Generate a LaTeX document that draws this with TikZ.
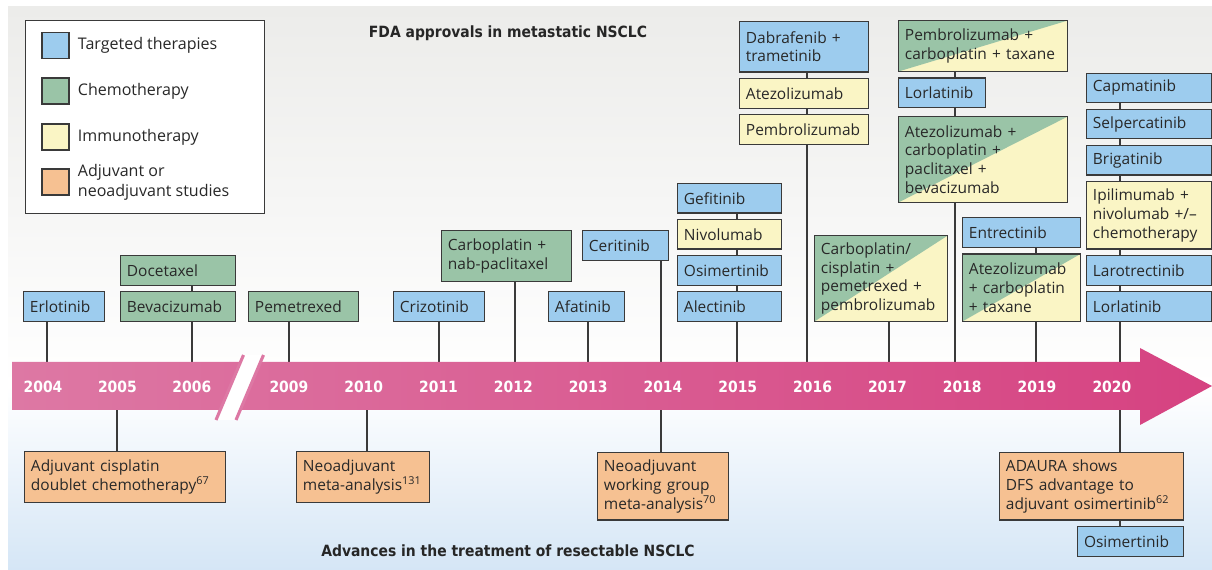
\documentclass[tikz,border=0pt]{standalone}
\usepackage{fontspec}
\setmainfont{Open Sans}
\newfontfamily\headfont{DejaVuSansCondensed-Bold.ttf}
\usepackage{tikz}
\usetikzlibrary{positioning, backgrounds}
\pgfdeclarelayer{panel}
\pgfsetlayers{panel,background,main}

\definecolor{targetBlue}{RGB}{157,204,238}
\definecolor{chemoGreen}{RGB}{154,196,167}
\definecolor{immunoYellow}{RGB}{250,245,197}
\definecolor{adjOrange}{RGB}{246,193,146}
\definecolor{boxLine}{RGB}{58,58,58}
\definecolor{boxText}{RGB}{40,40,40}
\definecolor{arrowLight}{RGB}{221,120,164}
\definecolor{arrowDark}{RGB}{214,66,129}
\definecolor{panelGray}{RGB}{236,236,234}
\definecolor{panelBlue}{RGB}{213,230,246}

\newcommand{\boxfont}{\fontsize{11}{13.3}\selectfont}
\newcommand{\keyfont}{\fontsize{11.4}{14}\selectfont}
\newcommand{\yearfont}{\headfont\fontsize{11}{13}\selectfont}
\hyphenpenalty=10000
\exhyphenpenalty=10000

\tikzstyle{drug} = [draw=boxLine, line width=0.9pt, rectangle, align=left, inner xsep=4.5pt, inner ysep=0pt, font=\boxfont, text=boxText]
\tikzstyle{targeted} = [drug, fill=targetBlue]
\tikzstyle{chemo} = [drug, fill=chemoGreen]
\tikzstyle{immuno} = [drug, fill=immunoYellow]
\tikzstyle{adjuvant} = [drug, fill=adjOrange]
\tikzstyle{combo} = [drug, fill=immunoYellow, path picture={\fill[chemoGreen] (path picture bounding box.south west) -- (path picture bounding box.north west) -- (path picture bounding box.north east) -- cycle;}]
\tikzstyle{oneline} = [minimum height=21pt]
\tikzstyle{twoline} = [minimum height=36.2pt]
\tikzstyle{threeline} = [minimum height=48pt]
\tikzstyle{fourline} = [minimum height=61pt]
\tikzstyle{legendkey} = [draw=boxLine, line width=0.9pt, minimum width=19.2pt, minimum height=18.5pt, inner sep=0pt]
\tikzstyle{legendtext} = [font=\keyfont, text=boxText, align=left, inner sep=0pt]
\tikzstyle{yearlabel} = [font=\yearfont, text=white, inner sep=0pt]
\tikzstyle{heading} = [font=\yearfont, text=black!85]
\tikzstyle{tick} = [draw=boxLine, line width=0.8pt]

\begin{document}
\begin{tikzpicture}[x=0.025cm, y=-0.025cm, node distance=3.8pt]
        \useasboundingbox (0,0) rectangle (1212,570);
        \begin{pgfonlayer}{panel}
            \fill[top color=panelGray, bottom color=white] (8,7) rectangle (1212,386);
            \fill[top color=white, bottom color=panelBlue] (8,386) rectangle (1212,570);
        \end{pgfonlayer}

        % the timeline arrow with its break between 2006 and 2009
        \shade[left color=arrowLight, right color=arrowDark] (12,362) -- (1140,362) -- (1140,348) -- (1212,386) -- (1140,425) -- (1140,410) -- (12,410) -- cycle;
        \fill[white] (244.5,355) -- (262.5,355) -- (235,420) -- (217,420) -- cycle;
        \draw[arrowLight, line width=2.2pt] (243.5,355) -- (216,420) (263.5,355) -- (236,420);

        \node [yearlabel] (y2004) at (43,387) {2004};
        \node [yearlabel, right of=y2004, node distance=1.86cm] (y2005) {2005};
        \node [yearlabel, right of=y2005, node distance=1.86cm] (y2006) {2006};
        \node [yearlabel, right of=y2006, node distance=2.425cm] (y2009) {2009};
        \node [yearlabel, right of=y2009, node distance=1.87cm] (y2010) {2010};
        \node [yearlabel, right of=y2010, node distance=1.87cm] (y2011) {2011};
        \node [yearlabel, right of=y2011, node distance=1.87cm] (y2012) {2012};
        \node [yearlabel, right of=y2012, node distance=1.87cm] (y2013) {2013};
        \node [yearlabel, right of=y2013, node distance=1.87cm] (y2014) {2014};
        \node [yearlabel, right of=y2014, node distance=1.87cm] (y2015) {2015};
        \node [yearlabel, right of=y2015, node distance=1.87cm] (y2016) {2016};
        \node [yearlabel, right of=y2016, node distance=1.87cm] (y2017) {2017};
        \node [yearlabel, right of=y2017, node distance=1.87cm] (y2018) {2018};
        \node [yearlabel, right of=y2018, node distance=1.87cm] (y2019) {2019};
        \node [yearlabel, right of=y2019, node distance=1.87cm] (y2020) {2020};

        % where the stems meet the arrow
        \coordinate (t2004) at (47,362);
        \coordinate (t2006) at (192,362);
        \coordinate (t2009) at (289,362);
        \coordinate (t2011) at (439,362);
        \coordinate (t2012) at (515,362);
        \coordinate (t2013) at (588,362);
        \coordinate (t2014) at (661,362);
        \coordinate (t2015) at (737,362);
        \coordinate (t2016) at (807,362);
        \coordinate (t2017) at (889,362);
        \coordinate (t2018) at (955,362);
        \coordinate (t2019) at (1036,362);
        \coordinate (t2020) at (1120,362);
        \coordinate (b2005) at (117,410);
        \coordinate (b2010) at (367,410);
        \coordinate (b2014) at (661,410);
        \coordinate (b2020) at (1120,410);

        % legend
        \node [draw=boxLine, line width=0.9pt, fill=white, minimum width=170pt, minimum height=137.3pt, anchor=north west, inner sep=0pt] (legendBox) at (25,20) {};
        \node [legendkey, fill=targetBlue] (keyTargeted) at (55.5,45.5) {};
        \node [legendkey, fill=chemoGreen] (keyChemo) at (55.5,91) {};
        \node [legendkey, fill=immunoYellow] (keyImmuno) at (55.5,137) {};
        \node [legendkey, fill=adjOrange] (keyAdjuvant) at (55.5,182) {};
        \node [legendtext, right=5.7pt of keyTargeted] (txtTargeted) {Targeted therapies};
        \node [legendtext, right=5.7pt of keyChemo] (txtChemo) {Chemotherapy};
        \node [legendtext, right=5.7pt of keyImmuno] (txtImmuno) {Immunotherapy};
        \node [legendtext, right=5.7pt of keyAdjuvant] (txtAdjuvant) {Adjuvant or\\neoadjuvant studies};

        \node [heading] (fdaTitle) at (508,33) {FDA approvals in metastatic NSCLC};
        \node [heading] (resTitle) at (508,551) {Advances in the treatment of resectable NSCLC};

        % approvals above the line, bottom box of each stack first
        \node [targeted, oneline, text width=48.6pt, anchor=south west] (erlotinib) at (23,322) {Erlotinib};
        \node [chemo, oneline, text width=72.8pt, anchor=south west] (bevacizumab) at (120,322) {Bevacizumab};
        \node [chemo, oneline, text width=72.8pt, above=of bevacizumab] (docetaxel) {Docetaxel};
        \node [chemo, oneline, text width=69.2pt, anchor=south west] (pemetrexed) at (248,322) {Pemetrexed};
        \node [targeted, oneline, text width=55.7pt, anchor=south west] (crizotinib) at (393,322) {Crizotinib};
        \node [chemo, twoline, text width=83.5pt, anchor=south west] (carboNab) at (441,282) {Carboplatin +\\nab-paclitaxel};
        \node [targeted, oneline, text width=45.1pt, anchor=south west] (afatinib) at (548,322) {Afatinib};
        \node [targeted, oneline, text width=52.2pt, anchor=south west] (ceritinib) at (582,261) {Ceritinib};

        \node [targeted, oneline, text width=65pt, anchor=south west] (alectinib) at (677,322) {Alectinib};
        \node [targeted, oneline, text width=65pt, above=of alectinib] (osimertinib) {Osimertinib};
        \node [immuno, oneline, text width=65pt, above=of osimertinib] (nivolumab) {Nivolumab};
        \node [targeted, oneline, text width=65pt, above=of nivolumab] (gefitinib) {Gefitinib};

        \node [immuno, oneline, text width=82.8pt, anchor=south west] (pembrolizumab) at (739,145) {Pembrolizumab};
        \node [immuno, oneline, text width=82.8pt, above=of pembrolizumab] (atezolizumab) {Atezolizumab};
        \node [targeted, twoline, text width=82.8pt, above=of atezolizumab] (dabrafenib) {Dabrafenib +\\trametinib};

        \node [combo, fourline, text width=85.6pt, anchor=south west] (carboCis) at (814,322) {Carboplatin/\\cisplatin +\\pemetrexed +\\pembrolizumab};

        \node [combo, fourline, text width=111.2pt, anchor=south west] (atezoBev) at (898,203) {Atezolizumab +\\carboplatin +\\paclitaxel +\\bevacizumab};
        \node [targeted, oneline, text width=52.9pt, above=5.5pt of atezoBev.north west, anchor=south west] (lorlatinibA) {Lorlatinib};
        \node [combo, twoline, text width=111.2pt, above=of lorlatinibA.north west, anchor=south west] (pembroCarbo) {Pembrolizumab +\\carboplatin + taxane};

        \node [combo, threeline, text width=74.9pt, anchor=south west] (atezoTaxane) at (962,322) {Atezolizumab\\+ carboplatin\\+ taxane};
        \node [targeted, oneline, text width=74.9pt, above=of atezoTaxane] (entrectinib) {Entrectinib};

        \node [targeted, oneline, text width=79.9pt, anchor=south west] (lorlatinibB) at (1086,322) {Lorlatinib};
        \node [targeted, oneline, text width=79.9pt, above=of lorlatinibB] (larotrectinib) {Larotrectinib};
        \node [immuno, threeline, text width=79.9pt, above=of larotrectinib] (ipilimumab) {Ipilimumab +\\nivolumab +/–\\chemotherapy};
        \node [targeted, oneline, text width=79.9pt, above=of ipilimumab] (brigatinib) {Brigatinib};
        \node [targeted, oneline, text width=79.9pt, above=of brigatinib] (selpercatinib) {Selpercatinib};
        \node [targeted, oneline, text width=79.9pt, above=of selpercatinib] (capmatinib) {Capmatinib};

        % resectable disease below the line
        \node [adjuvant, twoline, text width=134pt, anchor=north west] (adjDoublet) at (24,451) {Adjuvant cisplatin\\doublet chemotherapy\textsuperscript{67}};
        \node [adjuvant, twoline, text width=85.6pt, anchor=north west] (neoMeta) at (296,451) {Neoadjuvant\\meta-analysis\textsuperscript{131}};
        \node [adjuvant, threeline, text width=84.2pt, anchor=north west] (neoGroup) at (597,452) {Neoadjuvant\\working group\\meta-analysis\textsuperscript{70}};
        \node [adjuvant, threeline, text width=121.9pt, anchor=north west] (adaura) at (999,452) {ADAURA shows\\DFS advantage to\\adjuvant osimertinib\textsuperscript{62}};
        \node [targeted, oneline, text width=66.4pt, below=of adaura.south east, anchor=north east] (osimAdj) {Osimertinib};

        % stems run behind the boxes, so a stack shows one line
        \begin{scope}[on background layer]
            \draw [tick] (t2004) -- (t2004 |- erlotinib);
            \draw [tick] (t2006) -- (t2006 |- docetaxel);
            \draw [tick] (t2009) -- (t2009 |- pemetrexed);
            \draw [tick] (t2011) -- (t2011 |- crizotinib);
            \draw [tick] (t2012) -- (t2012 |- carboNab);
            \draw [tick] (t2013) -- (t2013 |- afatinib);
            \draw [tick] (t2014) -- (t2014 |- ceritinib);
            \draw [tick] (t2015) -- (t2015 |- gefitinib);
            \draw [tick] (t2016) -- (t2016 |- dabrafenib);
            \draw [tick] (t2017) -- (t2017 |- carboCis);
            \draw [tick] (t2018) -- (t2018 |- pembroCarbo);
            \draw [tick] (t2019) -- (t2019 |- entrectinib);
            \draw [tick] (t2020) -- (t2020 |- capmatinib);
            \draw [tick] (b2005) -- (b2005 |- adjDoublet);
            \draw [tick] (b2010) -- (b2010 |- neoMeta);
            \draw [tick] (b2014) -- (b2014 |- neoGroup);
            \draw [tick] (b2020) -- (b2020 |- osimAdj);
        \end{scope}
    \end{tikzpicture}
\end{document}
